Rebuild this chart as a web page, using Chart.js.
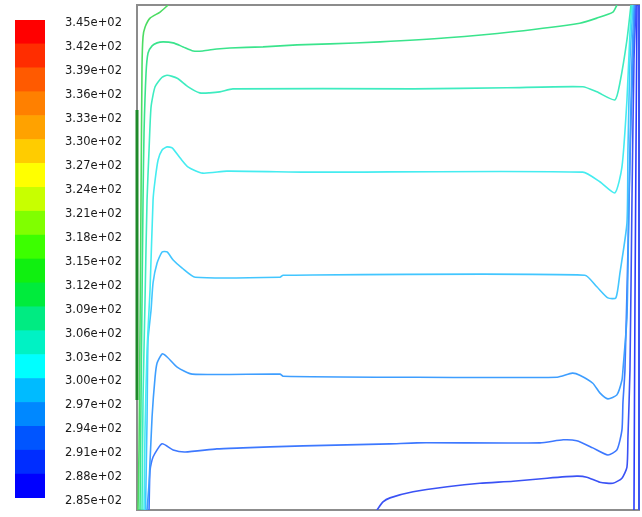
<!DOCTYPE html>
<html>
<head>
<meta charset="utf-8">
<script src="https://cdn.jsdelivr.net/npm/chart.js@4.4.0/dist/chart.umd.min.js"></script>
<style>
  html, body { margin: 0; padding: 0; background: #fff; overflow: hidden; }
  #wrap { position: relative; width: 642px; height: 517px; }
  canvas { position: absolute; left: 0; top: 0; }
</style>
</head>
<body>
<div id="wrap">
  <canvas id="plot" width="642" height="517"></canvas>
  <canvas id="bar" width="135" height="517"></canvas>
</div>
<script>
// === DATA ===
// colour bar: 20 bands from 2.85e+02 to 3.45e+02 (bottom -> top)
const barMin = 285;
const barMax = 345;
const barStep = 3;
const barColors = [
  "#0000ff", "#002dff", "#0055ff", "#0088ff", "#00bbff",
  "#00ffff", "#00f2c4", "#00eb82", "#00eb3c", "#10f010",
  "#3cff00", "#80ff00", "#c8ff00", "#ffff00", "#ffcc00",
  "#ffa200", "#ff8000", "#ff5a00", "#ff2d00", "#ff0000"
];

// contour levels (K) and their paths, x/L and y/H of the cavity
const levels = [312, 309, 306, 303, 300, 297, 294, 291, 288];

const iso312 = [[0.062,1],[0.046,0.986],[0.026,0.974],[0.016,0.956],[0.012,0.937],[0.010,0.877],
  [0.008,0.614],[0.006,0.356],[0.004,0.119],[0.002,0]];

const iso309 = [[0.006,0],[0.008,0.218],[0.010,0.416],[0.012,0.614],[0.014,0.747],[0.018,0.865],
  [0.022,0.905],[0.030,0.919],[0.040,0.925],[0.052,0.927],[0.072,0.925],[0.092,0.917],[0.112,0.909],
  [0.131,0.909],[0.159,0.913],[0.185,0.915],[0.251,0.917],[0.319,0.921],[0.384,0.923],[0.484,0.927],
  [0.618,0.935],[0.749,0.947],[0.882,0.964],[0.916,0.974],[0.948,0.986],[0.956,1]];

const iso306 = [[0.010,0],[0.012,0.218],[0.016,0.416],[0.020,0.614],[0.024,0.713],[0.028,0.798],
  [0.036,0.838],[0.050,0.857],[0.060,0.861],[0.080,0.855],[0.102,0.838],[0.125,0.826],[0.145,0.826],
  [0.165,0.828],[0.191,0.834],[0.550,0.834],[0.737,0.836],[0.888,0.838],[0.916,0.828],[0.952,0.812],
  [0.962,0.846],[0.976,0.931],[0.984,1]];

const iso303 = [[0.014,0],[0.016,0.158],[0.020,0.317],[0.026,0.436],[0.032,0.614],[0.036,0.653],
  [0.042,0.693],[0.050,0.713],[0.060,0.719],[0.070,0.717],[0.086,0.697],[0.102,0.679],[0.131,0.667],
  [0.179,0.671],[0.345,0.669],[0.888,0.669],[0.922,0.650],[0.952,0.628],[0.966,0.679],[0.976,0.812],
  [0.982,0.945],[0.986,1]];

const iso300 = [[0.017,0],[0.020,0.178],[0.022,0.337],[0.028,0.396],[0.032,0.450],[0.040,0.489],
  [0.050,0.511],[0.060,0.511],[0.072,0.495],[0.090,0.479],[0.116,0.461],[0.285,0.461],[0.291,0.465],
  [0.892,0.465],[0.916,0.442],[0.938,0.420],[0.954,0.420],[0.962,0.469],[0.976,0.568],[0.978,0.713],
  [0.982,0.891],[0.988,1]];

const iso297 = [[0.020,0],[0.024,0.053],[0.030,0.184],[0.036,0.263],[0.040,0.291],[0.050,0.309],
  [0.060,0.303],[0.080,0.283],[0.110,0.269],[0.285,0.269],[0.291,0.265],[0.518,0.263],[0.837,0.263],
  [0.867,0.271],[0.882,0.267],[0.908,0.251],[0.922,0.232],[0.938,0.220],[0.956,0.228],[0.966,0.257],
  [0.968,0.277],[0.976,0.382],[0.980,0.614],[0.986,0.891],[0.990,1]];

const iso294 = [[0.024,0],[0.026,0.079],[0.032,0.105],[0.050,0.131],[0.072,0.119],[0.096,0.115],
  [0.159,0.121],[0.211,0.123],[0.265,0.125],[0.331,0.127],[0.504,0.131],[0.558,0.133],[0.803,0.133],
  [0.849,0.139],[0.876,0.137],[0.908,0.123],[0.938,0.109],[0.956,0.119],[0.966,0.158],[0.968,0.212],
  [0.972,0.277],[0.978,0.515],[0.984,0.772],[0.992,1]];

const iso291 = [[0.478,0],[0.490,0.016],[0.504,0.024],[0.550,0.036],[0.618,0.046],[0.683,0.053],
  [0.749,0.057],[0.817,0.063],[0.876,0.067],[0.896,0.065],[0.922,0.055],[0.948,0.053],[0.966,0.063],
  [0.976,0.085],[0.978,0.145],[0.982,0.277],[0.986,0.614],[0.990,0.891],[0.994,1]];

const iso288 = [[0.990,0],[0.992,0.416],[0.996,1]];

const isoPaths = [iso312, iso309, iso306, iso303, iso300, iso297, iso294, iso291, iso288];
const isoColors = ["#4cdc62", "#3ae48c", "#3eecc0", "#45ecf0", "#42c6ff", "#3e9eff", "#3d78ff", "#3a52f5", "#2a3cff"];

// heated part of the left wall and the cold right wall
const hotWall = [[0, 0.218], [0, 0.792]];
const coldWall = [[1, 0], [1, 1]];

// === COLOUR BAR ===
new Chart(document.getElementById("bar"), {
  type: "bar",
  data: {
    labels: [""],
    datasets: barColors.map(function (c, j) {
      return {
        data: [[barMin + j * barStep, barMin + (j + 1) * barStep]],
        backgroundColor: c,
        barPercentage: 1,
        categoryPercentage: 1,
      };
    }),
  },
  options: {
    responsive: false,
    animation: false,
    layout: { padding: { left: 15, top: 20, bottom: 19, right: 0 } },
    plugins: { legend: { display: false }, tooltip: { enabled: false } },
    scales: {
      x: { display: false, stacked: true },
      y: {
        position: "right",
        min: barMin,
        max: barMax,
        grid: { display: false },
        border: { display: false },
        afterFit: function (scale) { scale.width = 90; },
        ticks: {
          stepSize: barStep,
          autoSkip: false,
          padding: 12,
          labelOffset: 3,
          color: "#1a1a1a",
          font: { family: "DejaVu Sans", size: 11.5 },
          callback: function (value) {
            return Number(value).toExponential(2).replace("e+2", "e+02");
          }
        }
      }
    }
  }
});

// === CONTOUR PLOT ===
const framePlugin = {
  id: "frame",
  beforeDatasetsDraw(chart) {
    const a = chart.chartArea;
    const ctx = chart.ctx;
    ctx.save();
    ctx.strokeStyle = "#8c8c8c";
    ctx.lineWidth = 2;
    ctx.strokeRect(a.left, a.top, a.right - a.left, a.bottom - a.top);
    ctx.restore();
  }
};

function toPoints(path) {
  return path.map(function (p) { return { x: p[0], y: p[1] }; });
}

const datasets = isoPaths.map(function (path, i) {
  return {
    label: levels[i] + " K",
    data: toPoints(path),
    borderColor: isoColors[i],
    borderWidth: 1.6,
    showLine: true,
    tension: 0.2,
    pointRadius: 0,
    fill: false,
  };
});
datasets.push({ label: "hot wall", data: toPoints(hotWall), borderColor: "#1f8a2a", borderWidth: 3, showLine: true, pointRadius: 0, clip: false });
datasets.push({ label: "cold wall", data: toPoints(coldWall), borderColor: "#3d55f0", borderWidth: 2, showLine: true, pointRadius: 0, clip: false });

new Chart(document.getElementById("plot"), {
  type: "scatter",
  data: { datasets: datasets },
  options: {
    responsive: false,
    animation: false,
    layout: { padding: { left: 137, top: 5, right: 3, bottom: 7 } },
    plugins: { legend: { display: false }, tooltip: { enabled: false } },
    scales: {
      x: { type: "linear", min: 0, max: 1, display: false },
      y: { type: "linear", min: 0, max: 1, display: false }
    }
  },
  plugins: [framePlugin]
});
</script>
</body>
</html>
